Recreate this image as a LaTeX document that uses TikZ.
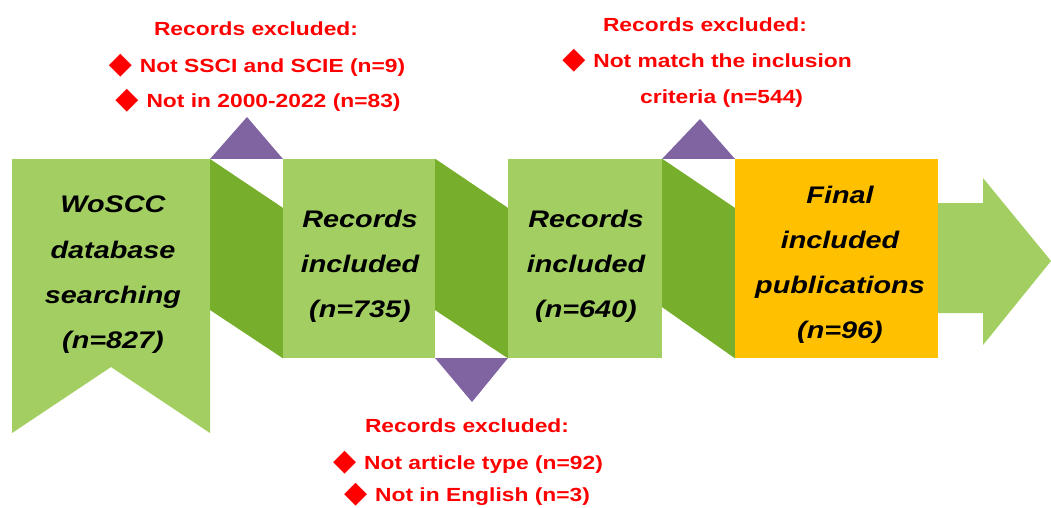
\documentclass[tikz,border=0pt]{standalone}
\usepackage{fontspec}
\usetikzlibrary{calc}
\newfontfamily\boxfont[FakeStretch=1.2]{Liberation Sans}
\newfontfamily\redfont[FakeStretch=1.2]{Liberation Sans}
\newfontfamily\symfont{DejaVu Sans}
\definecolor{lgreen}{RGB}{163,207,98}
\definecolor{dgreen}{RGB}{119,175,44}
\definecolor{tripurple}{RGB}{128,100,162}
\definecolor{fingold}{RGB}{255,192,0}
\definecolor{exred}{RGB}{255,0,0}
\newcommand{\dia}{\smash{\symfont\fontsize{30}{30}\selectfont\raisebox{-1pt}{◆}}\hspace{8pt}}
\begin{document}
\begin{tikzpicture}[x=1pt,y=-1pt,
  box/.style={rectangle,inner sep=0pt,minimum height=199pt},
  conn/.style={fill=dgreen},
  tri/.style={fill=tripurple},
  btxt/.style={anchor=base,inner sep=0pt,font=\boxfont\bfseries\itshape\fontsize{24}{24}\selectfont,text=black},
  rtxt/.style={anchor=base,inner sep=0pt,font=\redfont\bfseries\fontsize{19}{19}\selectfont,text=exred}]
\useasboundingbox (0,0) rectangle (1051,508);
\fill[white] (0,0) rectangle (1051,508);
% boxes
\node[box,fill=lgreen,minimum width=152pt] (b2) at (359,258.5) {};
\node[box,fill=lgreen,minimum width=154pt] (b3) at (585,258.5) {};
\node[box,fill=fingold,minimum width=203pt] (b4) at (836.5,258.5) {};
% banner
\fill[lgreen] (12,159) -- (210,159) -- (210,433) -- (111,367) -- (12,433) -- cycle;
\coordinate (b1ne) at (210,159);
\coordinate (b1e) at (210,310);
% folded connectors
\fill[conn] (b1ne) -- ($(b2.north west)+(0,49)$) -- (b2.south west) -- (b1e) -- cycle;
\fill[conn] (b2.north east) -- ($(b3.north west)+(0,49)$) -- (b3.south west) -- ($(b2.south east)+(0,-48)$) -- cycle;
\fill[conn] (b3.north east) -- ($(b4.north west)+(0,49)$) -- (b4.south west) -- ($(b3.south east)+(0,-51)$) -- cycle;
% arrow
\fill[lgreen] (b4.east |- 0,203) -- (983,203) -- (983,178) -- (1051,261) -- (983,345) -- (983,313) -- (b4.east |- 0,313) -- cycle;
% triangles
\fill[tri] (b1ne) -- (b2.north west) -- (247,117) -- cycle;
\fill[tri] (b2.south east) -- (b3.south west) -- (472,402) -- cycle;
\fill[tri] (b3.north east) -- (b4.north west) -- (700,119) -- cycle;
% box texts
\node[btxt] (t1a) at (113,212) {WoSCC};
\node[btxt] (t1b) at (113,258) {database};
\node[btxt] (t1c) at (113,303) {searching};
\node[btxt] (t1d) at (113,348) {(n=827)};
\node[btxt] (t2a) at (360,227) {Records};
\node[btxt] (t2b) at (360,272) {included};
\node[btxt] (t2c) at (360,317) {(n=735)};
\node[btxt] (t3a) at (586,227) {Records};
\node[btxt] (t3b) at (586,272) {included};
\node[btxt] (t3c) at (586,317) {(n=640)};
\node[btxt] (t4a) at (840,203) {Final};
\node[btxt] (t4b) at (840,248) {included};
\node[btxt] (t4c) at (840,293) {publications};
\node[btxt] (t4d) at (840,338) {(n=96)};
% red texts
\node[rtxt] (e1a) at (256,36) {Records excluded:};
\node[rtxt] (e1b) at (257,73) {\dia Not SSCI and SCIE (n=9)};
\node[rtxt] (e1c) at (258,108) {\dia Not in 2000-2022 (n=83)};
\node[rtxt] (e2a) at (705,32) {Records excluded:};
\node[rtxt] (e2b) at (707,68) {\dia Not match the inclusion};
\node[rtxt,anchor=base west] (e2c) at (640,104) {criteria (n=544)};
\node[rtxt] (e3a) at (467,432) {Records excluded:};
\node[rtxt] (e3b) at (468,469) {\dia Not article type (n=92)};
\node[rtxt] (e3c) at (467,501) {\dia Not in English (n=3)};
\end{tikzpicture}
\end{document}
